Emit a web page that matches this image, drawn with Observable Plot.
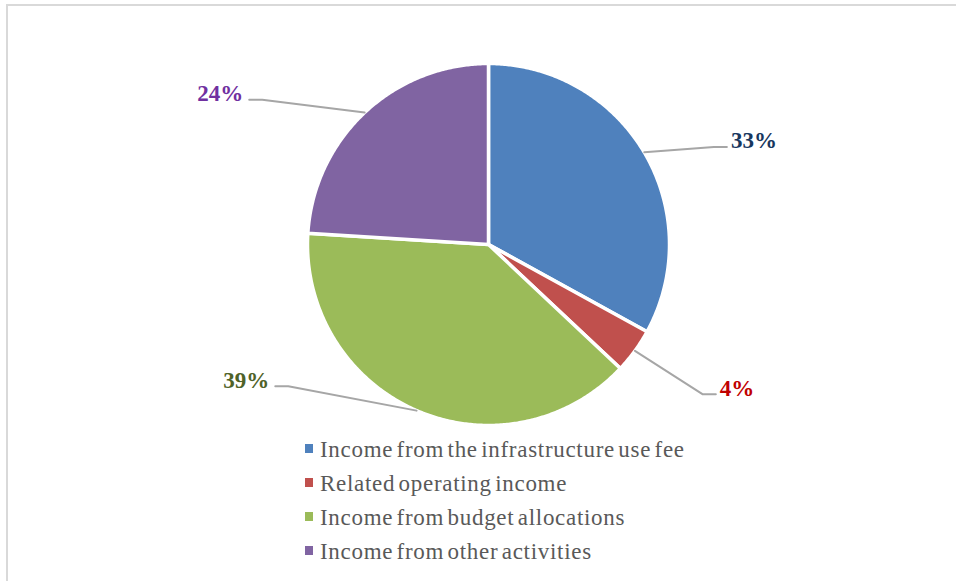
<!DOCTYPE html>
<html>
<head>
<meta charset="utf-8">
<script src="https://cdn.jsdelivr.net/npm/d3@7"></script>
<script src="https://cdn.jsdelivr.net/npm/@observablehq/plot@0.6"></script>
<style>
  html, body { margin: 0; padding: 0; background: #fff; width: 956px; height: 581px; overflow: hidden; }
  #frame { position: absolute; left: 6px; top: 4px; width: 1000px; height: 640px; border: 2px solid #d9d9d9; box-sizing: border-box; }
  #chart { position: absolute; left: 0; top: 0; }
  #legend { position: absolute; left: 305px; top: 0; font-family: "Liberation Serif", "Times New Roman", serif; font-size: 23px; color: #595959; letter-spacing: 0.7px; word-spacing: -3px; }
  .row { position: absolute; left: 0; white-space: nowrap; line-height: 1; }
  .sw { position: absolute; left: 0; width: 8px; height: 9px; }
  .tx { position: absolute; left: 15px; top: 0; }
</style>
</head>
<body>
<div id="chart"></div>
<div id="legend"></div>
<div id="frame"></div>
<script>
// ---- data ----
const categories = [
  "Income from the infrastructure use fee",
  "Related operating income",
  "Income from budget allocations",
  "Income from other activities"
];
const shares = [33, 4, 39, 24];
const labels = ["33%", "4%", "39%", "24%"];

// ---- styles ----
const colors = ["#4f81bd", "#c0504d", "#9bbb59", "#8064a2"];
const labelColors = ["#17375e", "#c00000", "#4f6228", "#7030a0"];

// ---- layout (pixels) ----
const W = 956, H = 430, CX = 488, CY = 244, R = 181;
// label anchor (end of leader line), in pie-radius units relative to centre
const labelAnchors = [[1.317, 0.539], [1.256, -0.828], [-1.178, -0.783], [-1.322, 0.80]];
const elbow = 13 / R;

const total = d3.sum(shares);
let acc = 0;
const slices = shares.map((v, i) => {
  const a0 = acc / total * 2 * Math.PI;
  acc += v;
  const a1 = acc / total * 2 * Math.PI;
  return {i, cat: categories[i], a0, a1, mid: (a0 + a1) / 2};
});

// polygon outline of each slice (arc sampled geometrically)
const piePts = [];
for (const s of slices) {
  piePts.push({cat: s.cat, x: 0, y: 0});
  const n = Math.max(2, Math.ceil((s.a1 - s.a0) / (Math.PI / 360)));
  for (let k = 0; k <= n; k++) {
    const a = s.a0 + (s.a1 - s.a0) * k / n;
    piePts.push({cat: s.cat, x: Math.sin(a), y: Math.cos(a)});
  }
}

// leader lines
const leaderPts = [];
const labelPts = [];
for (const s of slices) {
  const [lx, ly] = labelAnchors[s.i];
  const right = lx > 0;
  leaderPts.push({cat: s.cat, x: Math.sin(s.mid), y: Math.cos(s.mid)});
  leaderPts.push({cat: s.cat, x: lx + (right ? -elbow : elbow), y: ly});
  leaderPts.push({cat: s.cat, x: lx, y: ly});
  labelPts.push({cat: s.cat, x: lx, y: ly, text: labels[s.i], color: labelColors[s.i], right});
}

const plot = Plot.plot({
  width: W,
  height: H,
  margin: 0,
  style: {background: "transparent"},
  x: {domain: [-CX / R, (W - CX) / R], axis: null},
  y: {domain: [-(H - CY) / R, CY / R], axis: null},
  color: {domain: categories, range: colors},
  marks: [
    Plot.line(piePts, {x: "x", y: "y", z: "cat", fill: "cat", stroke: "#fff", strokeWidth: 3.5, strokeLinejoin: "round", curve: "linear-closed"}),
    Plot.line(leaderPts, {x: "x", y: "y", z: "cat", stroke: "#a6a6a6", strokeWidth: 2, strokeLinejoin: "round"}),
    Plot.text(labelPts.filter(d => d.right), {x: "x", y: "y", text: "text", fill: d => d.color, textAnchor: "start", dx: 4, dy: -6, fontSize: 23, fontWeight: "bold", fontFamily: "Liberation Serif, Times New Roman, serif"}),
    Plot.text(labelPts.filter(d => !d.right), {x: "x", y: "y", text: "text", fill: d => d.color, textAnchor: "end", dx: -6, dy: -6, fontSize: 23, fontWeight: "bold", fontFamily: "Liberation Serif, Times New Roman, serif"})
  ]
});
document.getElementById("chart").appendChild(plot);

// legend
const legend = document.getElementById("legend");
categories.forEach((c, i) => {
  const row = document.createElement("div");
  row.className = "row";
  row.style.top = (438 + 34 * i) + "px";
  const sw = document.createElement("div");
  sw.className = "sw";
  sw.style.background = colors[i];
  sw.style.top = "6px";
  const tx = document.createElement("span");
  tx.className = "tx";
  tx.textContent = c;
  row.appendChild(sw);
  row.appendChild(tx);
  legend.appendChild(row);
});
</script>
</body>
</html>
